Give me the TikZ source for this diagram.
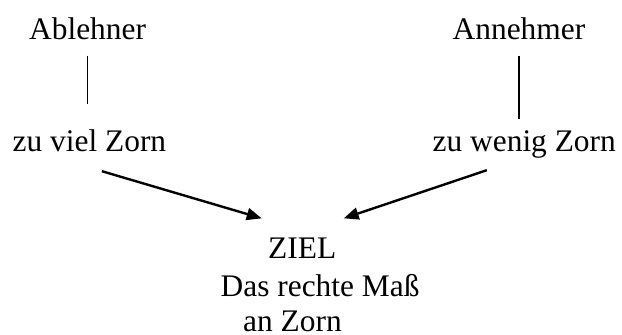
\documentclass[tikz,border=0pt]{standalone}
\usepackage{fontspec}
\setmainfont{Liberation Serif}
\usetikzlibrary{arrows.meta}

\begin{document}
\begin{tikzpicture}[x=1pt,y=-1pt,
  label/.style={anchor=base west, inner sep=0pt, font=\fontsize{31.4}{36}\selectfont},
  stem/.style={line width=1.6pt},
  pointer/.style={line width=2.4pt, -{Triangle[length=15pt,width=12pt]}}]
  \useasboundingbox (0,0) rectangle (622,335);

  % top row
  \node[label] (abl) at (29,39) {Ablehner};
  \node[label] (ann) at (452.5,39.3) {Annehmer};

  % middle row
  \node[label] (viel)  at (12.5,151) {zu viel Zorn};
  \node[label] (wenig) at (432.5,151.5) {zu wenig Zorn};

  % goal, three staggered lines
  \node[label] (ziel) at (268,258.5) {ZIEL};
  \node[label] (mass) at (220.5,296.7) {Das rechte Maß};
  \node[label] (an)   at (243,331.7) {an Zorn};

  % vertical stems
  \draw[stem, shorten <=16pt, shorten >=25.5pt] (abl.south) -- (abl.south |- viel.north);
  \draw[stem, shorten <=15.7pt, shorten >=11.4pt] (ann.south) -- (ann.south |- wenig.north);

  % arrows towards the goal
  \draw[pointer] ([xshift=12.5pt,yshift=-19.7pt]viel.south) -- ([xshift=-6.3pt,yshift=19.4pt]ziel.north west);
  \draw[pointer] ([xshift=-37.4pt,yshift=-11.7pt]wenig.south) -- ([xshift=7.3pt,yshift=19.4pt]ziel.north east);
\end{tikzpicture}
\end{document}
